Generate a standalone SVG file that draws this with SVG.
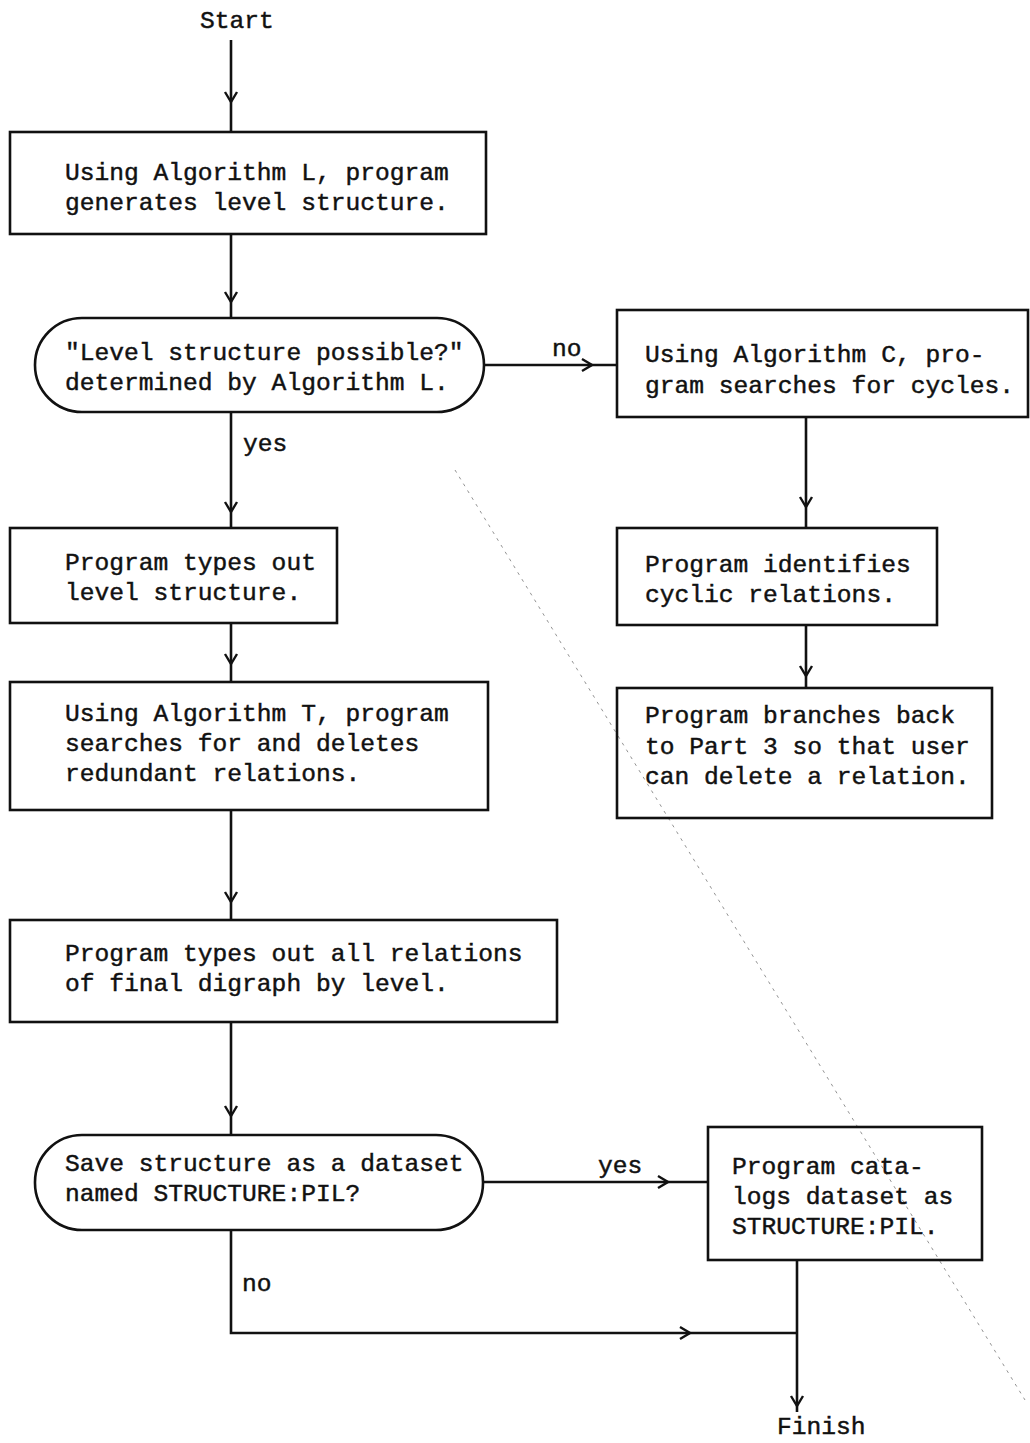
<svg xmlns="http://www.w3.org/2000/svg" width="1030" height="1443" viewBox="0 0 1030 1443">
<style>
.box{fill:none;stroke:#111;stroke-width:2.6}
.ln{fill:none;stroke:#111;stroke-width:2.6;marker-mid:url(#chev)}
.pl{fill:none;stroke:#111;stroke-width:2.6}
text{font-family:"Liberation Mono","Courier New",monospace;font-size:24.6px;fill:#111;stroke:#111;stroke-width:0.45}
</style>
<defs>
<marker id="chev" viewBox="-12 -8 14 16" markerWidth="14" markerHeight="16" refX="0" refY="0" orient="auto" markerUnits="userSpaceOnUse">
<path d="M-10,-6 L0,0 L-10,6" fill="none" stroke="#111" stroke-width="2.4"/>
</marker>
</defs>
<rect width="1030" height="1443" fill="#fff"/>
<line x1="455" y1="470" x2="1025" y2="1400" stroke="#777" stroke-width="0.8" stroke-dasharray="3 5"/>
<g id="connectors">
<polyline class="ln" points="231,40 231,102 231,132"/>
<polyline class="ln" points="231,234 231,302 231,318"/>
<polyline class="ln" points="484,365 592,365 617,365"/>
<polyline class="ln" points="231,412 231,512 231,528"/>
<polyline class="ln" points="806,417 806,507 806,528"/>
<polyline class="ln" points="231,623 231,664 231,682"/>
<polyline class="ln" points="806,625 806,676 806,688"/>
<polyline class="ln" points="231,810 231,902 231,920"/>
<polyline class="ln" points="231,1022 231,1116 231,1135"/>
<polyline class="ln" points="483,1182 668,1182 708,1182"/>
<polyline class="pl" points="231,1230 231,1333 660,1333"/>
<polyline class="ln" points="660,1333 690,1333 797,1333"/>
<polyline class="ln" points="797,1260 797,1406 797,1412"/>
<text x="552" y="356">no</text>
<text x="243" y="451">yes</text>
<text x="598" y="1173">yes</text>
<text x="242" y="1291">no</text>
</g>
<g id="start"><text x="200" y="28">Start</text></g>
<g id="n1">
<rect class="box" x="10" y="132" width="476" height="102"/>
<text x="65" y="180">Using Algorithm L, program</text>
<text x="65" y="210">generates level structure.</text>
</g>
<g id="d1">
<rect class="box" x="35" y="318" width="449" height="94" rx="47" ry="47"/>
<text x="65" y="360">"Level structure possible?"</text>
<text x="65" y="390">determined by Algorithm L.</text>
</g>
<g id="nC">
<rect class="box" x="617" y="310" width="411" height="107"/>
<text x="645" y="362">Using Algorithm C, pro-</text>
<text x="645" y="393">gram searches for cycles.</text>
</g>
<g id="n2">
<rect class="box" x="10" y="528" width="327" height="95"/>
<text x="65" y="570">Program types out</text>
<text x="65" y="600">level structure.</text>
</g>
<g id="nCyc">
<rect class="box" x="617" y="528" width="320" height="97"/>
<text x="645" y="572">Program identifies</text>
<text x="645" y="602">cyclic relations.</text>
</g>
<g id="n3">
<rect class="box" x="10" y="682" width="478" height="128"/>
<text x="65" y="721">Using Algorithm T, program</text>
<text x="65" y="751">searches for and deletes</text>
<text x="65" y="781">redundant relations.</text>
</g>
<g id="nBack">
<rect class="box" x="617" y="688" width="375" height="130"/>
<text x="645" y="723">Program branches back</text>
<text x="645" y="754">to Part 3 so that user</text>
<text x="645" y="784">can delete a relation.</text>
</g>
<g id="n4">
<rect class="box" x="10" y="920" width="547" height="102"/>
<text x="65" y="961">Program types out all relations</text>
<text x="65" y="991">of final digraph by level.</text>
</g>
<g id="d2">
<rect class="box" x="35" y="1135" width="448" height="95" rx="47" ry="47"/>
<text x="65" y="1171">Save structure as a dataset</text>
<text x="65" y="1201">named STRUCTURE:PIL?</text>
</g>
<g id="nCat">
<rect class="box" x="708" y="1127" width="274" height="133"/>
<text x="732" y="1174">Program cata-</text>
<text x="732" y="1204">logs dataset as</text>
<text x="732" y="1234">STRUCTURE:PIL.</text>
</g>
<g id="finish"><text x="777" y="1434">Finish</text></g>
</svg>
